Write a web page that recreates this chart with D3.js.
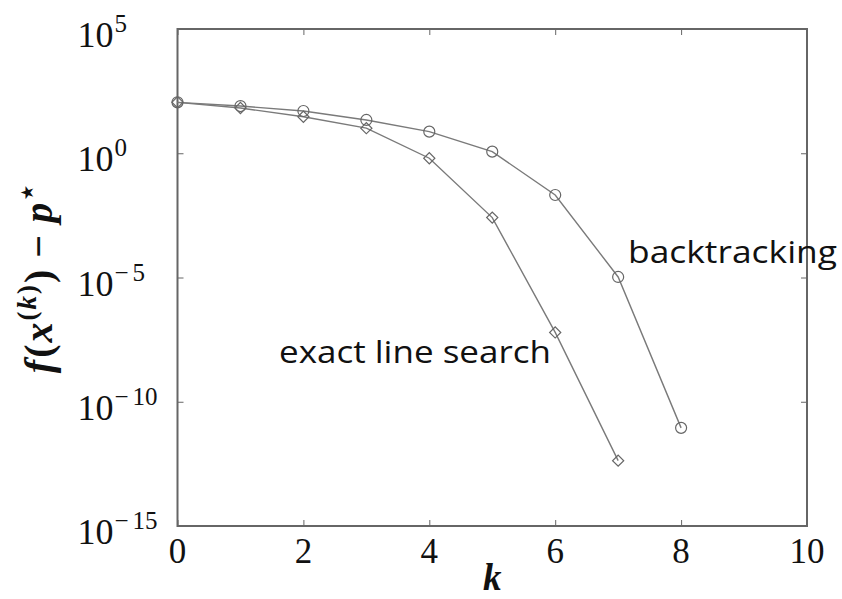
<!DOCTYPE html>
<html>
<head>
<meta charset="utf-8">
<script src="https://cdn.jsdelivr.net/npm/d3@7"></script>
<style>
  body { margin: 0; background: #fff; }
  svg { display: block; }
</style>
</head>
<body>
<svg id="chart"></svg>
<script>
// iteration numbers and f(x^(k)) - p* for each method
const kBacktracking = [0, 1, 2, 3, 4, 5, 6, 7, 8];
const gapBacktracking = [112, 79.4, 50.1, 21.9, 7.41, 1.16, 0.0209, 1.05e-5, 8.9e-12];
const kExact = [0, 1, 2, 3, 4, 5, 6, 7];
const gapExact = [112, 66.1, 29.5, 10.2, 0.631, 2.57e-3, 6.17e-8, 4.27e-13];

const xTicks = [0, 2, 4, 6, 8, 10];
const yTickExps = [5, 0, -5, -10, -15];

const width = 842, height = 599;
const margin = { top: 29, right: 35, bottom: 73, left: 177.5 };
const w = width - margin.left - margin.right;
const h = height - margin.top - margin.bottom;

const svg = d3.select('#chart').attr('width', width).attr('height', height);
const g = svg.append('g').attr('transform', `translate(${margin.left},${margin.top})`);

const x = d3.scaleLinear().domain([0, 10]).range([0, w]);
const y = d3.scaleLog().domain([1e-15, 1e5]).range([h, 0]);

const serif = '"Liberation Serif", "DejaVu Serif", serif';
const sans = '"Open Sans", "DejaVu Sans", sans-serif';
const axisColor = '#666';

// inward ticks on all four sides
const tickVals = yTickExps.map((e) => Math.pow(10, e));
const addAxis = (axis, transform) => {
  const a = g.append('g').attr('transform', transform).call(axis);
  a.select('.domain').remove();
  a.selectAll('.tick line').attr('stroke', axisColor).attr('stroke-width', 1);
  a.selectAll('.tick text').remove();
  return a;
};
addAxis(d3.axisBottom(x).tickValues(xTicks).tickSizeInner(-6).tickSizeOuter(0), `translate(0,${h})`);
addAxis(d3.axisTop(x).tickValues(xTicks).tickSizeInner(-6).tickSizeOuter(0), 'translate(0,0)');
addAxis(d3.axisLeft(y).tickValues(tickVals).tickSizeInner(-6).tickSizeOuter(0), 'translate(0,0)');
addAxis(d3.axisRight(y).tickValues(tickVals).tickSizeInner(-6).tickSizeOuter(0), `translate(${w},0)`);

// frame
g.append('rect')
  .attr('x', 0).attr('y', 0).attr('width', w).attr('height', h)
  .attr('fill', 'none').attr('stroke', axisColor).attr('stroke-width', 2);

// x tick labels
g.append('g').selectAll('text').data(xTicks).join('text')
  .attr('x', (d) => x(d))
  .attr('y', h + 37)
  .attr('text-anchor', 'middle')
  .attr('font-family', serif)
  .attr('font-size', 35)
  .attr('fill', '#111')
  .text((d) => d);

// y tick labels 10^e, left aligned like the original
const yLab = g.append('g').selectAll('text').data(yTickExps).join('text')
  .attr('x', -100)
  .attr('y', (d) => y(Math.pow(10, d)) + 18)
  .attr('text-anchor', 'start')
  .attr('font-family', serif)
  .attr('fill', '#111');
yLab.append('tspan').attr('font-size', 36).text('10');
yLab.filter((d) => d < 0).append('tspan')
  .attr('font-size', 25).attr('dy', -15).attr('dx', 1)
  .text('\u2212');
yLab.append('tspan').attr('font-size', 25)
  .attr('dy', (d) => (d < 0 ? 0 : -15))
  .attr('dx', (d) => (d < 0 ? 4 : 1))
  .text((d) => Math.abs(d));

// axis labels
g.append('text')
  .attr('x', w / 2)
  .attr('y', h + 64)
  .attr('text-anchor', 'middle')
  .attr('font-family', serif)
  .attr('font-style', 'italic')
  .attr('font-weight', 'bold')
  .attr('font-size', 37)
  .attr('fill', '#111')
  .text('k');

const yl = g.append('text')
  .attr('transform', `translate(${-126},${h / 2}) rotate(-90)`)
  .attr('text-anchor', 'middle')
  .attr('font-family', serif)
  .attr('font-style', 'italic')
  .attr('font-weight', 'bold')
  .attr('font-size', 40)
  .attr('letter-spacing', 2)
  .attr('fill', '#111');
yl.append('tspan').text('f');
yl.append('tspan').attr('font-style', 'normal').text('(');
yl.append('tspan').text('x');
yl.append('tspan').attr('font-size', 27).attr('dy', -16).attr('font-style', 'normal').text('(');
yl.append('tspan').attr('font-size', 27).text('k');
yl.append('tspan').attr('font-size', 27).attr('font-style', 'normal').text(')');
yl.append('tspan').attr('dy', 16).attr('font-style', 'normal').text(')\u2009\u2212\u2009');
yl.append('tspan').text('p');
yl.append('tspan').attr('font-size', 27).attr('dy', -16).attr('font-style', 'normal').text('\u22c6');

// series
const line = d3.line().x((d) => x(d[0])).y((d) => y(d[1]));
const lineColor = '#7a7a7a';

const bt = kBacktracking.map((k, i) => [k, gapBacktracking[i]]);
const ex = kExact.map((k, i) => [k, gapExact[i]]);

g.append('path').datum(bt).attr('d', line)
  .attr('fill', 'none').attr('stroke', lineColor).attr('stroke-width', 1.4);
g.append('path').datum(ex).attr('d', line)
  .attr('fill', 'none').attr('stroke', lineColor).attr('stroke-width', 1.4);

g.append('g').selectAll('circle').data(bt).join('circle')
  .attr('cx', (d) => x(d[0]))
  .attr('cy', (d) => y(d[1]))
  .attr('r', 5.5)
  .attr('fill', 'none')
  .attr('stroke', '#666')
  .attr('stroke-width', 1.2);

const diamond = d3.symbol(d3.symbolSquare, 62);
g.append('g').selectAll('path').data(ex).join('path')
  .attr('d', diamond)
  .attr('transform', (d) => `translate(${x(d[0])},${y(d[1])}) rotate(45)`)
  .attr('fill', 'none')
  .attr('stroke', '#666')
  .attr('stroke-width', 1.2);

// in-plot labels
g.append('text')
  .attr('x', 628 - margin.left)
  .attr('y', 263 - margin.top)
  .attr('font-family', sans)
  .attr('font-size', 31)
  .attr('fill', '#111')
  .attr('textLength', 209)
  .attr('lengthAdjust', 'spacingAndGlyphs')
  .text('backtracking');

g.append('text')
  .attr('x', 279 - margin.left)
  .attr('y', 363 - margin.top)
  .attr('font-family', sans)
  .attr('font-size', 31)
  .attr('fill', '#111')
  .attr('textLength', 272)
  .attr('lengthAdjust', 'spacingAndGlyphs')
  .text('exact line search');
</script>
</body>
</html>
